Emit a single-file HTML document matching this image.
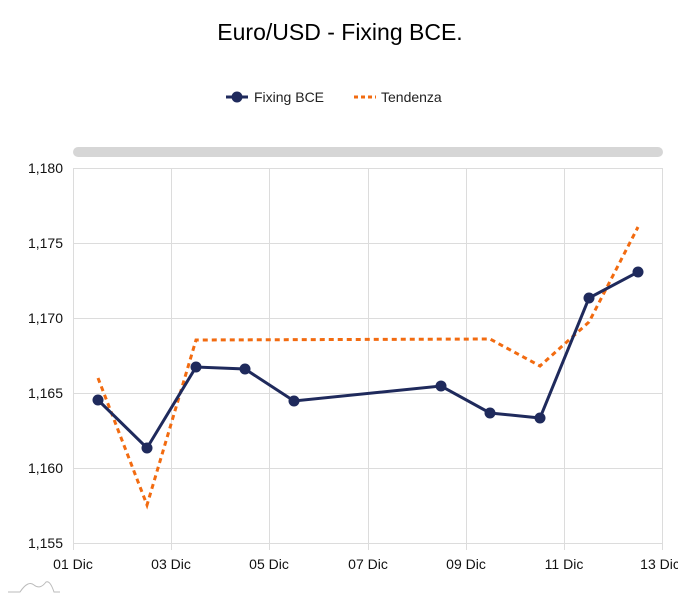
<!DOCTYPE html>
<html><head><meta charset="utf-8"><style>
body{margin:0;background:#fff;width:678px;height:600px;overflow:hidden;font-family:"Liberation Sans","DejaVu Sans",sans-serif}
</style></head><body>
<svg width="678" height="600" xmlns="http://www.w3.org/2000/svg" font-family="Liberation Sans, DejaVu Sans, sans-serif">
<text x="340" y="40" font-size="23" text-anchor="middle" fill="#000">Euro/USD - Fixing BCE.</text>
<line x1="226" y1="97" x2="248" y2="97" stroke="#1f2a5c" stroke-width="3"/>
<circle cx="237" cy="97" r="5.5" fill="#1f2a5c"/>
<text x="254" y="102" font-size="14" fill="#222">Fixing BCE</text>
<line x1="354" y1="97" x2="376" y2="97" stroke="#f26b10" stroke-width="3" stroke-dasharray="4,3"/>
<text x="381" y="102" font-size="14" fill="#222">Tendenza</text>
<rect x="73" y="147" width="590" height="10" rx="5" fill="#d6d6d6"/>
<g stroke="#dcdcdc" stroke-width="1">
<line x1="73" y1="168.5" x2="662" y2="168.5"/><line x1="73" y1="243.5" x2="662" y2="243.5"/>
<line x1="73" y1="318.5" x2="662" y2="318.5"/><line x1="73" y1="393.5" x2="662" y2="393.5"/>
<line x1="73" y1="468.5" x2="662" y2="468.5"/><line x1="73" y1="543.5" x2="662" y2="543.5"/>
<line x1="73.5" y1="168" x2="73.5" y2="550"/><line x1="171.5" y1="168" x2="171.5" y2="550"/>
<line x1="269.5" y1="168" x2="269.5" y2="550"/><line x1="368.5" y1="168" x2="368.5" y2="550"/>
<line x1="466.5" y1="168" x2="466.5" y2="550"/><line x1="564.5" y1="168" x2="564.5" y2="550"/>
<line x1="662.5" y1="168" x2="662.5" y2="550"/>
</g>
<g font-size="14" fill="#111" text-anchor="end">
<text x="63" y="173">1,180</text><text x="63" y="248">1,175</text><text x="63" y="323">1,170</text>
<text x="63" y="398">1,165</text><text x="63" y="473">1,160</text><text x="63" y="548">1,155</text>
</g>
<g font-size="14" fill="#111" text-anchor="middle">
<text x="73" y="569">01 Dic</text><text x="171" y="569">03 Dic</text><text x="269" y="569">05 Dic</text>
<text x="368" y="569">07 Dic</text><text x="466" y="569">09 Dic</text><text x="564" y="569">11 Dic</text>
<text x="660" y="569">13 Dic</text>
</g>
<polyline points="98,378 147,505 196,340 490,339 540,366 589,322 638,227" fill="none" stroke="#f26b10" stroke-width="3" stroke-dasharray="5,4"/>
<polyline points="98,400 147,448 196,367 245,369 294,401 441,386 490,413 540,418 589,298 638,272" fill="none" stroke="#1f2a5c" stroke-width="3"/>
<g fill="#1f2a5c">
<circle cx="98" cy="400" r="5.5"/><circle cx="147" cy="448" r="5.5"/><circle cx="196" cy="367" r="5.5"/>
<circle cx="245" cy="369" r="5.5"/><circle cx="294" cy="401" r="5.5"/><circle cx="441" cy="386" r="5.5"/>
<circle cx="490" cy="413" r="5.5"/><circle cx="540" cy="418" r="5.5"/><circle cx="589" cy="298" r="5.5"/>
<circle cx="638" cy="272" r="5.5"/>
</g>
<path d="M8,592 L20,592 Q28,580 34,585 Q40,590 46,582 Q50,580 54,592 L60,592" fill="none" stroke="#bbb" stroke-width="1"/>
</svg>
</body></html>
